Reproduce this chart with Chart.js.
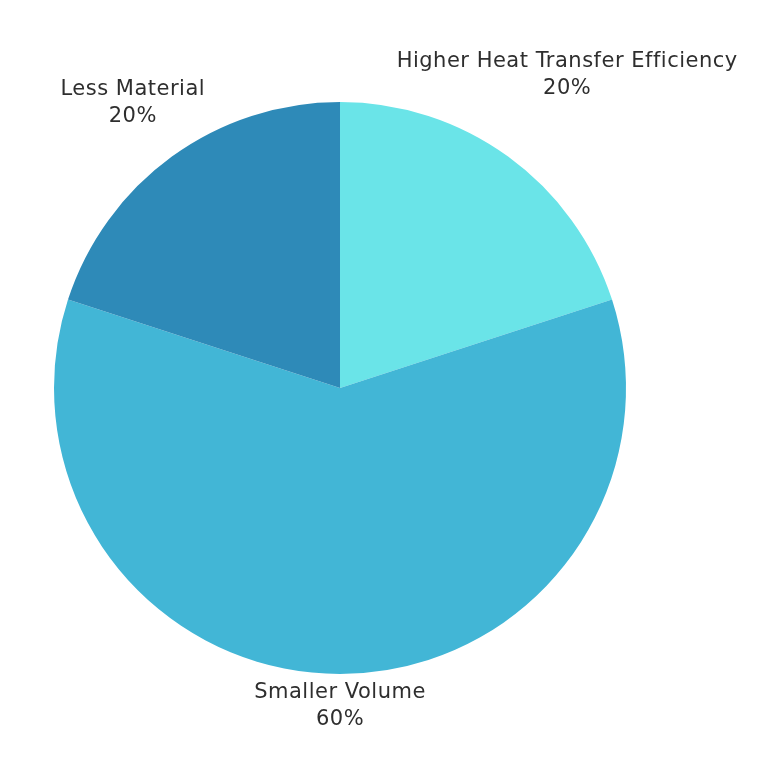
<!DOCTYPE html>
<html>
<head>
<meta charset="utf-8">
<script src="https://cdn.jsdelivr.net/npm/chart.js@4/dist/chart.umd.min.js"></script>
<style>
html,body{margin:0;padding:0;background:#fff;}
#wrap{width:768px;height:768px;}
</style>
</head>
<body>
<div id="wrap"><canvas id="c" width="768" height="768"></canvas></div>
<script>
const categories = ["Higher Heat Transfer Efficiency", "Smaller Volume", "Less Material"];
const values = [20, 60, 20];
const colors = ["#6AE4E8", "#42B6D6", "#2E8AB8"];

const FONT_SIZE = 21;
const LINE_H = 27;
const FONT = FONT_SIZE + 'px "DejaVu Sans", "Open Sans", sans-serif';

const outsideLabels = {
  id: 'outsideLabels',
  afterDatasetsDraw(chart) {
    const ctx = chart.ctx;
    const meta = chart.getDatasetMeta(0);
    const total = values.reduce((a, b) => a + b, 0);
    ctx.save();
    ctx.font = FONT;
    try { ctx.letterSpacing = '0.5px'; } catch (e) {}
    ctx.fillStyle = '#2e2e2e';
    ctx.textAlign = 'center';
    ctx.textBaseline = 'middle';
    meta.data.forEach((arc, i) => {
      const p = arc.getProps(['x', 'y', 'startAngle', 'endAngle', 'outerRadius'], true);
      const mid = (p.startAngle + p.endAngle) / 2;
      const dx = Math.cos(mid), dy = Math.sin(mid);
      const lines = [categories[i], Math.round(values[i] / total * 100) + '%'];
      const w = Math.max(...lines.map(l => ctx.measureText(l).width));
      const h = lines.length * LINE_H;
      const R = p.outerRadius + 5;
      let t = p.outerRadius;
      for (; t < p.outerRadius * 3; t += 0.5) {
        const cx = p.x + dx * t, cy = p.y + dy * t;
        const nx = Math.max(cx - w / 2, Math.min(p.x, cx + w / 2));
        const ny = Math.max(cy - h / 2, Math.min(p.y, cy + h / 2));
        if (Math.hypot(nx - p.x, ny - p.y) >= R) break;
      }
      const cx = p.x + dx * t, cy = p.y + dy * t;
      lines.forEach((l, k) => {
        ctx.fillText(l, cx, cy - h / 2 + LINE_H / 2 + k * LINE_H);
      });
    });
    ctx.restore();
  }
};

new Chart(document.getElementById('c'), {
  type: 'pie',
  data: {
    labels: categories,
    datasets: [{
      data: values,
      backgroundColor: colors,
      borderWidth: 0
    }]
  },
  options: {
    responsive: false,
    animation: false,
    layout: { padding: { left: 54, right: 142, top: 102, bottom: 94 } },
    plugins: {
      legend: { display: false },
      tooltip: { enabled: false }
    }
  },
  plugins: [outsideLabels]
});
</script>
</body>
</html>
